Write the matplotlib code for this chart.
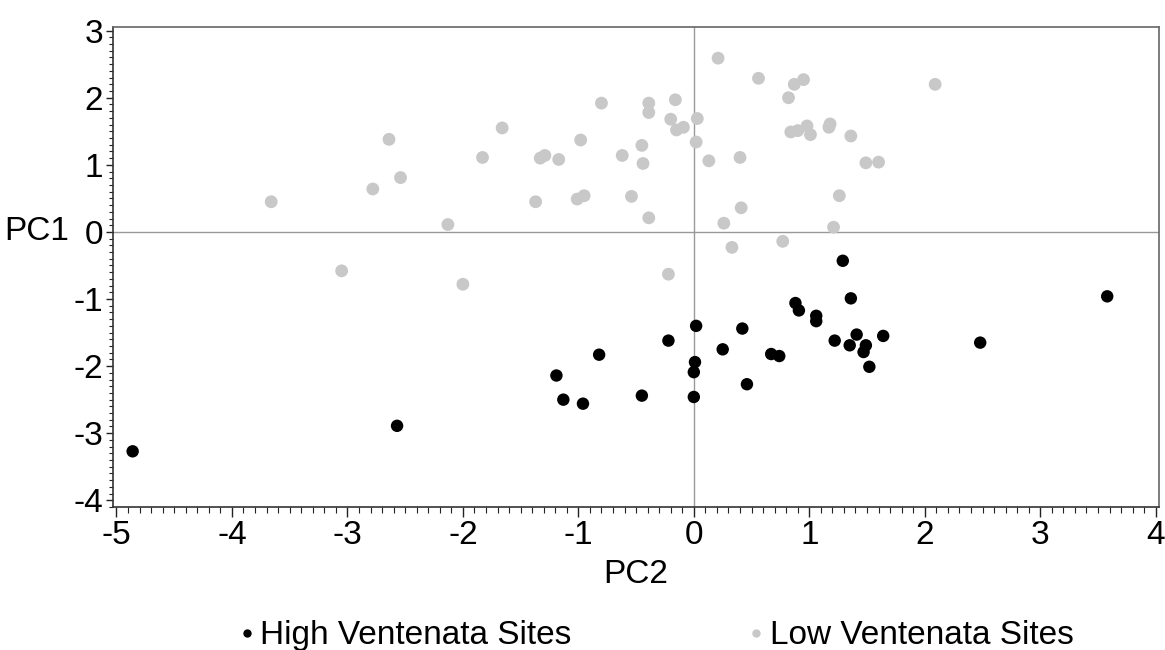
import matplotlib
matplotlib.use("Agg")
import matplotlib.pyplot as plt
from matplotlib.ticker import MultipleLocator
from matplotlib.lines import Line2D

plt.rcParams['font.family'] = ['Liberation Sans', 'DejaVu Sans']
plt.rcParams['axes.unicode_minus'] = False

# Low Ventenata Sites (PC2, PC1)
low_pc2 = [-3.66, -3.05, -2.78, -2.64, -2.54, -2.13, -2.00, -1.83, -1.66, -1.37,
           -1.33, -1.29, -1.17, -1.01, -0.95, -0.98, -0.80, -0.62, -0.54, -0.45,
           -0.44, -0.39, -0.39, -0.39, -0.22, -0.20, -0.16, -0.15, -0.09, 0.03,
           0.02, 0.13, 0.21, 0.26, 0.33, 0.40, 0.41, 0.56, 0.77, 0.82,
           0.84, 0.87, 0.90, 0.95, 0.98, 1.01, 1.17, 1.18, 1.21, 1.26,
           1.36, 1.49, 1.60, 2.09]
low_pc1 = [0.45, -0.58, 0.64, 1.38, 0.81, 0.11, -0.78, 1.11, 1.55, 0.45,
           1.10, 1.14, 1.08, 0.49, 0.54, 1.37, 1.92, 1.14, 0.53, 1.29,
           1.02, 0.21, 1.92, 1.78, -0.63, 1.68, 1.97, 1.52, 1.56, 1.69,
           1.34, 1.06, 2.59, 0.13, -0.23, 1.11, 0.36, 2.29, -0.14, 2.00,
           1.49, 2.20, 1.51, 2.27, 1.58, 1.45, 1.56, 1.61, 0.07, 0.54,
           1.43, 1.03, 1.04, 2.20]

# High Ventenata Sites (PC2, PC1)
high_pc2 = [-4.86, -2.57, -1.19, -1.13, -0.96, -0.82, -0.45, -0.22, 0.02, 0.01,
            0.00, 0.00, 0.25, 0.42, 0.46, 0.67, 0.74, 0.88, 0.91, 1.06,
            1.06, 1.22, 1.29, 1.36, 1.41, 1.35, 1.49, 1.47, 1.52, 1.64,
            2.48, 3.58]
high_pc1 = [-3.27, -2.89, -2.14, -2.50, -2.56, -1.83, -2.44, -1.62, -1.40, -1.94,
            -2.09, -2.46, -1.75, -1.44, -2.27, -1.82, -1.85, -1.06, -1.17, -1.25,
            -1.33, -1.62, -0.43, -0.99, -1.53, -1.69, -1.69, -1.79, -2.01, -1.55,
            -1.65, -0.96]

labels = ["High Ventenata Sites", "Low Ventenata Sites"]
colors = ["#000000", "#c8c8c8"]

FS = 24

fig = plt.figure(figsize=(11.65, 6.5), dpi=100)
ax = fig.add_axes([0.097, 0.22, 0.898, 0.738])

ax.axhline(0, color="#999999", lw=1, zorder=1)
ax.axvline(0, color="#999999", lw=1, zorder=1)

ax.scatter(low_pc2, low_pc1, s=85, color=colors[1], edgecolors='none', zorder=2)
ax.scatter(high_pc2, high_pc1, s=80, color=colors[0], edgecolors='none', zorder=3)

ax.set_xlim(-5.03, 4.03)
ax.set_ylim(-4.1, 3.05)
ax.xaxis.set_major_locator(MultipleLocator(1))
ax.xaxis.set_minor_locator(MultipleLocator(0.1))
ax.yaxis.set_major_locator(MultipleLocator(1))
ax.yaxis.set_minor_locator(MultipleLocator(0.1))
ax.tick_params(which='major', width=1, labelsize=FS, color='#222222', pad=2)
ax.tick_params(axis='x', which='major', length=7)
ax.tick_params(axis='x', which='minor', length=4, width=0.8, color='#222222')
ax.tick_params(axis='y', which='major', length=5)
ax.tick_params(axis='y', which='minor', length=3, width=0.8, color='#222222')

for side in ['top', 'right']:
    ax.spines[side].set_color('#666666')
for side in ['left', 'bottom']:
    ax.spines[side].set_color('#333333')
for sp in ax.spines.values():
    sp.set_linewidth(1.2)

ax.set_xlabel("PC2", fontsize=FS, labelpad=6)
ax.set_ylabel("PC1", fontsize=FS, rotation=0, ha='right', va='center')
ax.yaxis.set_label_coords(-0.042, (0 - (-4.1)) / (3.05 + 4.1))

handles = [Line2D([0], [0], marker='o', linestyle='none', markersize=6,
                  markerfacecolor=c, markeredgecolor='none') for c in colors]
fig.legend(handles, labels, loc='center', bbox_to_anchor=(0.563, 0.022), ncol=2,
           frameon=False, fontsize=FS, handletextpad=0.15, columnspacing=5.3,
           handlelength=0.5, borderpad=0.0)

fig.savefig("out.png", dpi=100)
